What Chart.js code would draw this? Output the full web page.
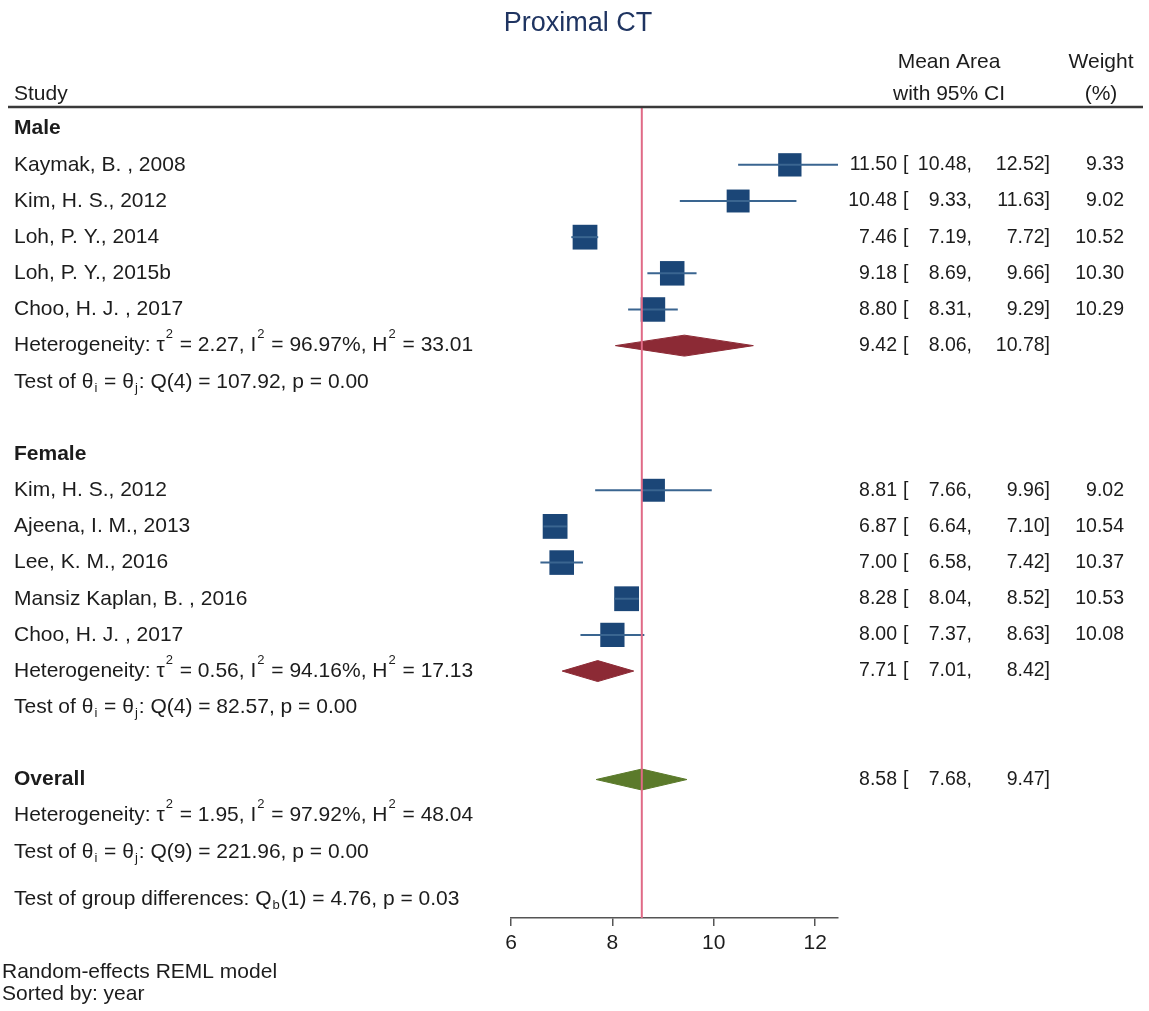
<!DOCTYPE html>
<html>
<head>
<meta charset="utf-8">
<script src="https://cdn.jsdelivr.net/npm/chart.js@4.4.1/dist/chart.umd.min.js"></script>
<style>
  body { margin: 0; background: #fff; }
  canvas { display: block; }
</style>
</head>
<body>
<canvas id="forest" width="1149" height="1011"></canvas>
<script>
// study data
const maleStudies = ["Kaymak, B. , 2008", "Kim, H. S., 2012", "Loh, P. Y., 2014", "Loh, P. Y., 2015b", "Choo, H. J. , 2017"];
const maleMean = [11.50, 10.48, 7.46, 9.18, 8.80];
const maleLow = [10.48, 9.33, 7.19, 8.69, 8.31];
const maleHigh = [12.52, 11.63, 7.72, 9.66, 9.29];
const maleWeight = [9.33, 9.02, 10.52, 10.30, 10.29];

const femaleStudies = ["Kim, H. S., 2012", "Ajeena, I. M., 2013", "Lee, K. M., 2016", "Mansiz Kaplan, B. , 2016", "Choo, H. J. , 2017"];
const femaleMean = [8.81, 6.87, 7.00, 8.28, 8.00];
const femaleLow = [7.66, 6.64, 6.58, 8.04, 7.37];
const femaleHigh = [9.96, 7.10, 7.42, 8.52, 8.63];
const femaleWeight = [9.02, 10.54, 10.37, 10.53, 10.08];

// pooled estimates [mean, low, high]
const malePooled = [9.42, 8.06, 10.78];
const femalePooled = [7.71, 7.01, 8.42];
const overallPooled = [8.58, 7.68, 9.47];

// heterogeneity: tau2, I2, H2, Q df, Q, p
const maleHet = [2.27, 96.97, 33.01, 4, 107.92, 0.00];
const femaleHet = [0.56, 94.16, 17.13, 4, 82.57, 0.00];
const overallHet = [1.95, 97.92, 48.04, 9, 221.96, 0.00];
const groupTest = [1, 4.76, 0.03];

const xTicks = [6, 8, 10, 12];

// row slots (top to bottom)
const maleRow = 0, femaleRow = 9, overallRow = 18, groupRow = 21.3;
const yMin = -0.6, yMax = 21.83;
const xMin = 6, xMax = 12.45;

const BLUE = "#1b4677";
const CI_BLUE = "#3a6590";
const RED = "#8c2a35";
const GREEN = "#5b7a2b";
const REF = "#e06a86";
const TXT = "#1c1c1c";
const FONT = "'Liberation Sans', Arial, sans-serif";

const datasets = [];

function addGroup(studies, mean, low, high, weight, firstRow) {
  studies.forEach((s, i) => {
    const r = firstRow + 1 + i;
    datasets.push({
      data: [{ x: low[i], y: r }, { x: high[i], y: r }],
      showLine: true, borderColor: CI_BLUE, borderWidth: 2, pointRadius: 0
    });
    datasets.push({
      data: [{ x: mean[i], y: r }],
      pointStyle: "rect", pointRadius: 5.4 * Math.sqrt(weight[i]),
      backgroundColor: BLUE, borderColor: BLUE, pointBorderWidth: 0
    });
  });
}

function addDiamond(p, r, color) {
  const h = 0.29;
  datasets.push({
    data: [{ x: p[1], y: r }, { x: p[0], y: r - h }, { x: p[2], y: r }, { x: p[0], y: r + h }, { x: p[1], y: r }],
    showLine: true, fill: "shape", tension: 0, pointRadius: 0,
    borderColor: color, borderWidth: 1, backgroundColor: color
  });
}

// reference line first so marks sit on top
datasets.push({
  data: [{ x: overallPooled[0], y: yMin }, { x: overallPooled[0], y: yMax }],
  showLine: true, borderColor: REF, borderWidth: 2, pointRadius: 0
});
addGroup(maleStudies, maleMean, maleLow, maleHigh, maleWeight, maleRow);
addGroup(femaleStudies, femaleMean, femaleLow, femaleHigh, femaleWeight, femaleRow);
addDiamond(malePooled, maleRow + 6, RED);
addDiamond(femalePooled, femaleRow + 6, RED);
addDiamond(overallPooled, overallRow, GREEN);

function f2(v) { return v.toFixed(2); }

// draw text made of plain / superscript / subscript parts
function rich(ctx, parts, x, y, size) {
  let cx = x;
  parts.forEach((p) => {
    if (typeof p === "string") {
      ctx.font = size + "px " + FONT;
      ctx.fillText(p, cx, y);
      cx += ctx.measureText(p).width;
    } else {
      const s = Math.round(size * 0.6);
      ctx.font = s + "px " + FONT;
      const dy = p.sup ? -size * 0.52 : size * 0.3;
      ctx.fillText(p.t, cx + 1, y + dy);
      cx += ctx.measureText(p.t).width + 2;
    }
  });
}

const textPlugin = {
  id: "forestText",
  afterDraw(chart) {
    const ctx = chart.ctx;
    const ys = chart.scales.y;
    const area = chart.chartArea;
    const sz = 21;   // left column text
    const nz = 19.5; // number columns
    ctx.save();
    ctx.fillStyle = TXT;
    ctx.textBaseline = "middle";

    // title
    ctx.fillStyle = "#1f3461";
    ctx.textAlign = "center";
    ctx.font = "27px " + FONT;
    ctx.fillText("Proximal CT", 578, 24);

    ctx.fillStyle = TXT;
    ctx.font = sz + "px " + FONT;
    ctx.fillText("Mean Area", 949, 62);
    ctx.fillText("with 95% CI", 949, 94);
    ctx.fillText("Weight", 1101, 62);
    ctx.fillText("(%)", 1101, 94);
    ctx.textAlign = "left";
    ctx.fillText("Study", 14, 94);

    // header rule
    ctx.strokeStyle = "#3a3a3a";
    ctx.lineWidth = 2.5;
    ctx.beginPath();
    ctx.moveTo(8, area.top);
    ctx.lineTo(1143, area.top);
    ctx.stroke();

    function numbers(y, m, lo, hi, w) {
      ctx.font = nz + "px " + FONT;
      ctx.textAlign = "right";
      ctx.fillText(f2(m), 897, y);
      ctx.fillText(f2(lo) + ",", 972, y);
      ctx.fillText(f2(hi) + "]", 1050, y);
      if (w !== undefined) ctx.fillText(f2(w), 1124, y);
      ctx.textAlign = "left";
      ctx.fillText("[", 903, y);
    }

    function hetLines(r, het) {
      rich(ctx, ["Heterogeneity: τ", { t: "2", sup: true }, " = " + f2(het[0]) + ", I", { t: "2", sup: true },
        " = " + f2(het[1]) + "%, H", { t: "2", sup: true }, " = " + f2(het[2])], 14, ys.getPixelForValue(r), sz);
      rich(ctx, ["Test of θ", { t: "i" }, " = θ", { t: "j" }, ": Q(" + het[3] + ") = " + f2(het[4]) + ", p = " + f2(het[5])],
        14, ys.getPixelForValue(r + 1), sz);
    }

    function group(name, row, studies, mean, low, high, weight, pooled, het) {
      ctx.font = "bold " + sz + "px " + FONT;
      ctx.textAlign = "left";
      ctx.fillText(name, 14, ys.getPixelForValue(row));
      studies.forEach((s, i) => {
        const y = ys.getPixelForValue(row + 1 + i);
        ctx.font = sz + "px " + FONT;
        ctx.textAlign = "left";
        ctx.fillText(s, 14, y);
        numbers(y, mean[i], low[i], high[i], weight[i]);
      });
      const hr = row + 1 + studies.length;
      numbers(ys.getPixelForValue(hr), pooled[0], pooled[1], pooled[2]);
      ctx.textAlign = "left";
      hetLines(hr, het);
    }

    group("Male", maleRow, maleStudies, maleMean, maleLow, maleHigh, maleWeight, malePooled, maleHet);
    group("Female", femaleRow, femaleStudies, femaleMean, femaleLow, femaleHigh, femaleWeight, femalePooled, femaleHet);

    ctx.font = "bold " + sz + "px " + FONT;
    ctx.textAlign = "left";
    ctx.fillText("Overall", 14, ys.getPixelForValue(overallRow));
    numbers(ys.getPixelForValue(overallRow), overallPooled[0], overallPooled[1], overallPooled[2]);
    ctx.textAlign = "left";
    hetLines(overallRow + 1, overallHet);

    rich(ctx, ["Test of group differences: Q", { t: "b" }, "(" + groupTest[0] + ") = " + f2(groupTest[1]) + ", p = " + f2(groupTest[2])],
      14, ys.getPixelForValue(groupRow), sz);

    // footnotes
    ctx.font = "21px " + FONT;
    ctx.fillText("Random-effects REML model", 2, 972);
    ctx.fillText("Sorted by: year", 2, 994);
    ctx.restore();
  }
};

new Chart(document.getElementById("forest"), {
  type: "scatter",
  data: { datasets: datasets },
  options: {
    responsive: false,
    animation: false,
    devicePixelRatio: 1,
    layout: { padding: { left: 511, right: 311, top: 107, bottom: 0 } },
    plugins: { legend: { display: false }, tooltip: { enabled: false } },
    scales: {
      x: {
        type: "linear", min: xMin, max: xMax,
        afterBuildTicks: (s) => { s.ticks = xTicks.map((v) => ({ value: v })); },
        afterFit: (s) => { s.height = 93; },
        grid: { display: true, drawOnChartArea: false, drawTicks: true, tickLength: 8, color: "#555", lineWidth: 1.5 },
        border: { display: true, color: "#555", width: 1.5 },
        ticks: { color: TXT, padding: 5, font: { family: FONT, size: 21 }, maxRotation: 0 }
      },
      y: { type: "linear", reverse: true, min: yMin, max: yMax, display: false }
    }
  },
  plugins: [textPlugin]
});
</script>
</body>
</html>
